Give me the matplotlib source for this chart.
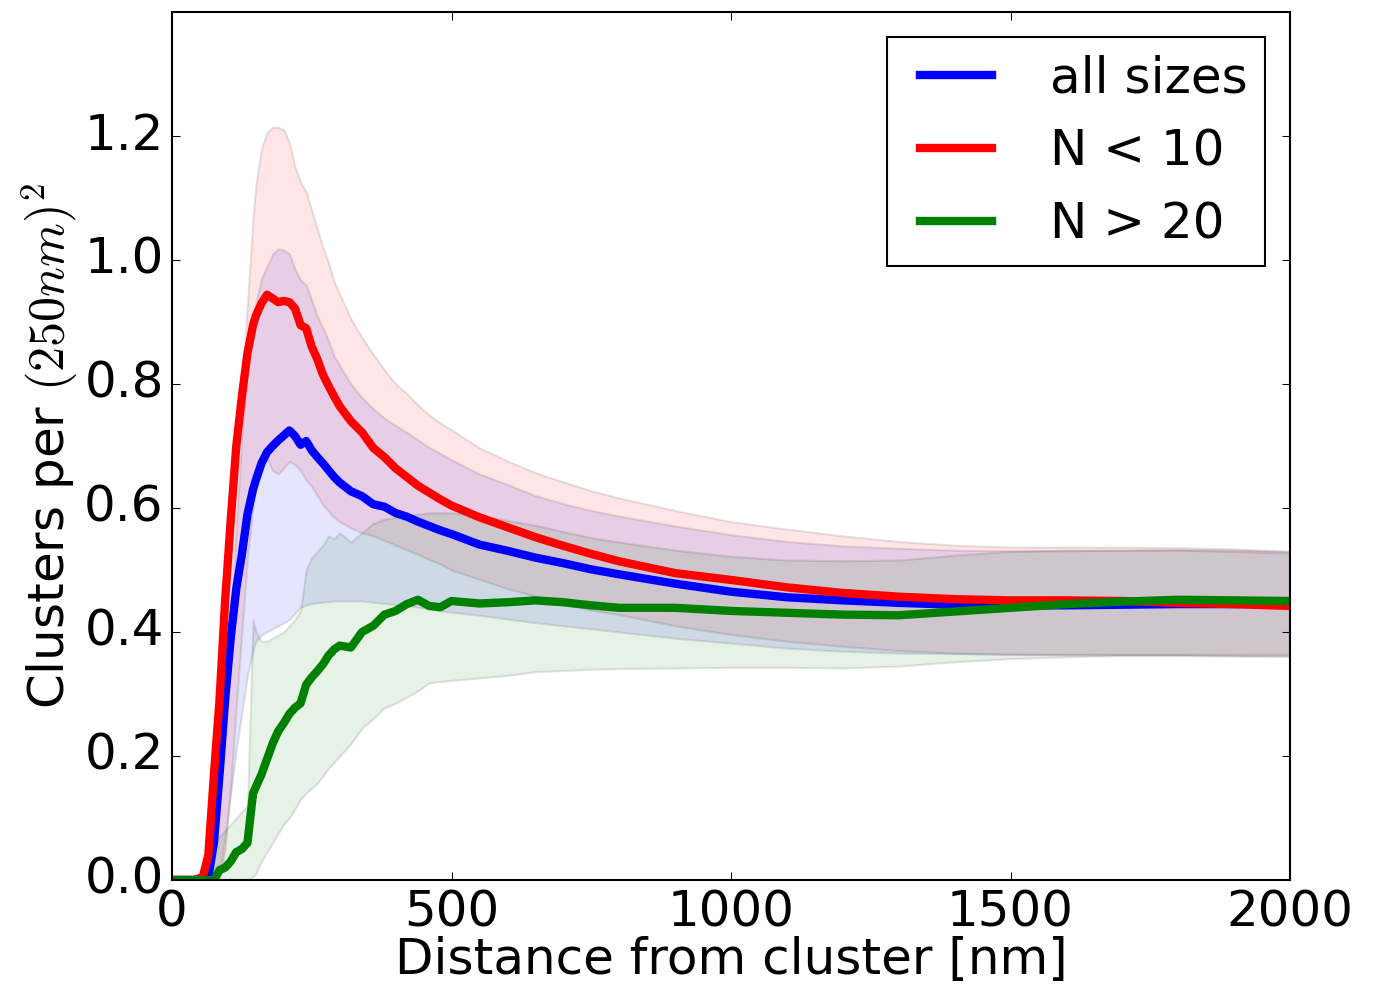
import numpy as np
import matplotlib
matplotlib.use("Agg")
import matplotlib.pyplot as plt

# distance grid [nm]
dist = [0, 40, 55, 65, 75, 85, 95, 105, 115, 125, 135, 145, 150, 160, 170, 180, 190, 200,
        210, 220, 230, 240, 250, 260, 270, 280, 290, 300, 320, 340, 360, 380, 400, 420,
        440, 460, 480, 500, 550, 600, 650, 700, 750, 800, 900, 1000, 1100, 1200, 1300,
        1400, 1500, 1600, 1700, 1800, 1900, 2000]

# all sizes
all_mean = [0, 0, 0, 0.005, 0.06, 0.17, 0.29, 0.39, 0.47, 0.525, 0.59, 0.63, 0.645, 0.672,
            0.69, 0.70, 0.709, 0.717, 0.725, 0.716, 0.702, 0.708, 0.693, 0.682, 0.672, 0.661,
            0.65, 0.641, 0.627, 0.619, 0.606, 0.602, 0.592, 0.586, 0.578, 0.571, 0.564, 0.558,
            0.541, 0.531, 0.52, 0.511, 0.501, 0.493, 0.478, 0.465, 0.456, 0.451, 0.447, 0.444,
            0.443, 0.443, 0.444, 0.445, 0.445, 0.445]
all_hi = [0, 0, 0, 0.015, 0.07, 0.13, 0.25, 0.42, 0.57, 0.72, 0.82, 0.90, 0.93, 0.97, 0.99,
          1.01, 1.018, 1.016, 1.01, 0.985, 0.968, 0.96, 0.935, 0.91, 0.89, 0.87, 0.845, 0.83,
          0.80, 0.778, 0.76, 0.745, 0.733, 0.722, 0.71, 0.698, 0.688, 0.678, 0.655, 0.638,
          0.62, 0.607, 0.596, 0.587, 0.571, 0.557, 0.546, 0.539, 0.535, 0.532, 0.531, 0.531,
          0.532, 0.533, 0.532, 0.53]
all_lo = [0, 0, 0, 0, 0, 0.01, 0.07, 0.14, 0.21, 0.27, 0.33, 0.37, 0.385, 0.395, 0.40, 0.405,
          0.41, 0.415, 0.42, 0.43, 0.44, 0.443, 0.446, 0.447, 0.448, 0.449, 0.45, 0.45, 0.45,
          0.45, 0.448, 0.446, 0.444, 0.442, 0.44, 0.437, 0.434, 0.432, 0.427, 0.421, 0.415,
          0.41, 0.405, 0.40, 0.39, 0.382, 0.374, 0.369, 0.366, 0.365, 0.364, 0.364, 0.364,
          0.364, 0.364, 0.364]

# N < 10
small_mean = [0, 0, 0.005, 0.04, 0.17, 0.29, 0.45, 0.58, 0.70, 0.78, 0.85, 0.895, 0.91, 0.93,
              0.944, 0.938, 0.932, 0.934, 0.932, 0.922, 0.895, 0.89, 0.86, 0.84, 0.815, 0.797,
              0.78, 0.764, 0.74, 0.722, 0.697, 0.682, 0.664, 0.65, 0.636, 0.625, 0.614, 0.604,
              0.585, 0.569, 0.553, 0.539, 0.526, 0.514, 0.495, 0.484, 0.472, 0.463, 0.457,
              0.453, 0.451, 0.451, 0.45, 0.447, 0.445, 0.442]
small_hi = [0, 0, 0.01, 0.05, 0.17, 0.27, 0.40, 0.53, 0.66, 0.79, 0.93, 1.07, 1.12, 1.18, 1.205,
            1.214, 1.214, 1.21, 1.19, 1.15, 1.125, 1.11, 1.08, 1.05, 1.02, 0.995, 0.965, 0.945,
            0.905, 0.875, 0.848, 0.823, 0.80, 0.785, 0.766, 0.75, 0.737, 0.726, 0.697, 0.676,
            0.657, 0.642, 0.628, 0.616, 0.596, 0.578, 0.566, 0.555, 0.546, 0.54, 0.537, 0.537,
            0.537, 0.536, 0.534, 0.53]
small_lo = [0, 0, 0, 0, 0, 0, 0.05, 0.15, 0.28, 0.40, 0.52, 0.60, 0.64, 0.665, 0.68, 0.66,
            0.655, 0.665, 0.675, 0.67, 0.66, 0.645, 0.635, 0.62, 0.605, 0.595, 0.585, 0.578,
            0.568, 0.56, 0.555, 0.548, 0.54, 0.533, 0.525, 0.517, 0.51, 0.50, 0.485, 0.47,
            0.458, 0.445, 0.435, 0.428, 0.41, 0.396, 0.385, 0.377, 0.37, 0.366, 0.364, 0.363,
            0.363, 0.363, 0.362, 0.362]

# N > 20
large_mean = [0, 0, 0, 0, 0, 0.016, 0.02, 0.03, 0.045, 0.05, 0.06, 0.14, 0.15, 0.17, 0.195,
              0.22, 0.24, 0.253, 0.268, 0.278, 0.285, 0.315, 0.327, 0.337, 0.348, 0.362, 0.372,
              0.378, 0.375, 0.40, 0.41, 0.428, 0.434, 0.445, 0.452, 0.442, 0.44, 0.45, 0.446,
              0.448, 0.451, 0.448, 0.443, 0.439, 0.439, 0.434, 0.431, 0.428, 0.427, 0.433,
              0.439, 0.445, 0.449, 0.452, 0.451, 0.45]
large_hi = [0, 0, 0.005, 0.03, 0.05, 0.07, 0.08, 0.09, 0.10, 0.11, 0.12, 0.42, 0.40, 0.385,
            0.385, 0.39, 0.395, 0.40, 0.41, 0.42, 0.435, 0.50, 0.52, 0.53, 0.54, 0.555, 0.55,
            0.56, 0.545, 0.56, 0.575, 0.582, 0.585, 0.588, 0.59, 0.592, 0.592, 0.592, 0.588,
            0.58, 0.572, 0.562, 0.552, 0.545, 0.532, 0.522, 0.516, 0.515, 0.516, 0.524, 0.53,
            0.532, 0.532, 0.532, 0.53, 0.527]
large_lo = [0, 0, 0, 0, 0, 0, 0, 0, 0, 0, 0, 0.005, 0.01, 0.03, 0.045, 0.06, 0.075, 0.09, 0.10,
            0.115, 0.13, 0.14, 0.148, 0.156, 0.168, 0.18, 0.19, 0.20, 0.22, 0.245, 0.26, 0.278,
            0.285, 0.295, 0.305, 0.318, 0.32, 0.322, 0.326, 0.33, 0.336, 0.338, 0.34, 0.341,
            0.342, 0.343, 0.343, 0.342, 0.345, 0.352, 0.357, 0.36, 0.362, 0.362, 0.361, 0.36]

labels = ['all sizes', 'N < 10', 'N > 20']

plt.style.use('classic')
plt.rcParams['figure.facecolor'] = 'white'
plt.rcParams['savefig.facecolor'] = 'white'
plt.rcParams['font.size'] = 24

DPI = 150
fig = plt.figure(figsize=(1374 / DPI, 986 / DPI), dpi=DPI)
ax = fig.add_axes([172 / 1374, 1 - 880 / 986, (1290 - 172) / 1374, (880 - 12) / 986])

x = np.array(dist)
series = [(all_mean, all_lo, all_hi, 'b'),
          (small_mean, small_lo, small_hi, 'r'),
          (large_mean, large_lo, large_hi, 'g')]

for mean, lo, hi, c in series:
    ax.fill_between(x, lo, hi, facecolor=c, edgecolor='k', linewidth=1.0, alpha=0.1)

for (mean, lo, hi, c), lab in zip(series, labels):
    ax.plot(x, mean, color=c, lw=4, label=lab)

ax.set_xlim(0, 2000)
ax.set_ylim(0, 1.4)
ax.set_xticks([0, 500, 1000, 1500, 2000])
ax.set_yticks([0.0, 0.2, 0.4, 0.6, 0.8, 1.0, 1.2])
ax.tick_params(labelsize=24)
ax.set_xlabel('Distance from cluster [nm]', fontsize=24, labelpad=0)
ax.set_ylabel('Clusters per $(250nm)^2$', fontsize=24, labelpad=2)

ax.legend(loc='upper right', fontsize=24, handlelength=2.05, handletextpad=0.85,
          numpoints=2, fancybox=False, borderpad=0.35)

fig.savefig('out.png', dpi=DPI)
